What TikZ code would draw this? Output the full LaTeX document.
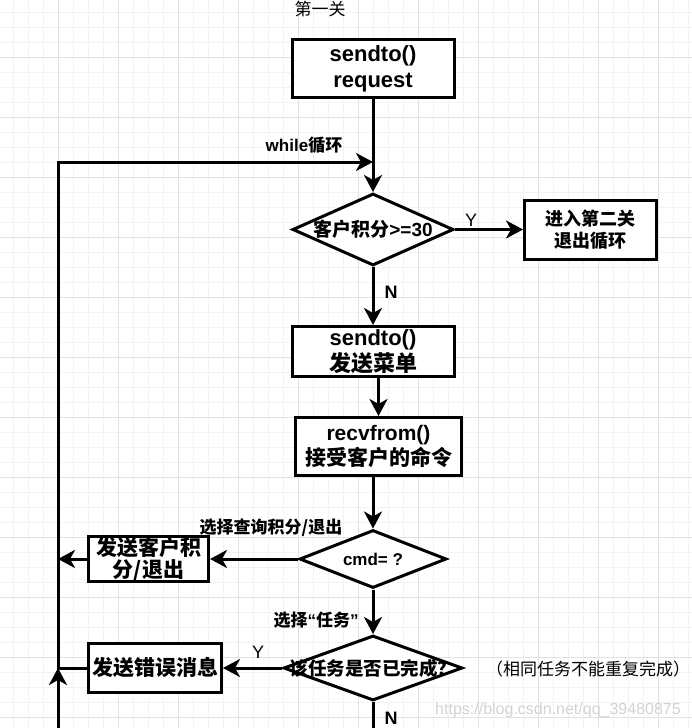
\documentclass[tikz,border=0pt]{standalone}
\usepackage{fontspec}
\setmainfont{Liberation Sans}
\newfontfamily\cjk{Noto Sans CJK SC}
\usetikzlibrary{shapes.geometric,arrows.meta}
\definecolor{gridmajor}{HTML}{E2E2E2}
\definecolor{gridminor}{HTML}{F3F3F3}
\definecolor{markgray}{HTML}{D2D2D2}
\tikzset{
  flow box/.style={
    draw, fill=white, line width=3pt,
    minimum width={#1},
    inner sep=0pt, align=center,
    font=\bfseries\fontsize{21}{25}\selectfont,
  },
  decision/.style={
    draw, fill=white, line width=3pt, diamond,
    minimum width={#1}, inner sep=0pt,
  },
  decision text/.style={
    font=\bfseries\fontsize{19}{22}\selectfont,
  },
  flow line/.style={line width=3pt},
  flow arrow/.style={line width=3pt, -{Stealth[length=17pt,width=18pt,inset=5pt]}},
  annotation/.style={font=\bfseries\fontsize{17}{20}\selectfont},
  branch/.style={font=\fontsize{18}{20}\selectfont},
  branch bold/.style={font=\bfseries\fontsize{18}{20}\selectfont},
}

\begin{document}
\begin{tikzpicture}[x=1pt, y=-1pt]
  \useasboundingbox (0,0) rectangle (692,728);
  \clip (0,0) rectangle (692,728);
  % background grid
  \draw [gridminor, line width=1pt, step=15pt, xshift=-1.7pt, yshift=2.7pt] (-30,760) grid (720,-30);
  \draw [gridmajor, line width=1pt, step=60pt, xshift=-1.7pt, yshift=2.7pt] (-60,780) grid (720,-60);

  \node [font=\cjk\fontsize{17}{20}\selectfont] (stage) at (320,9.5) {第一关};
  \node [flow box=162pt, minimum height=58pt, font=\bfseries\fontsize{22}{26}\selectfont] (send req) at (373,68.5) {sendto()\\request};
  \node [decision=161pt, minimum height=72pt] (score) at (373,229.5) {};
  \node [decision text] (score text) at (score) {{\cjk 客户积分}>=30};
  \node [flow box=132pt, minimum height=59pt, font=\bfseries\cjk\fontsize{18}{22}\selectfont] (next) at (590.5,229.5) {进入第二关\\退出循环};
  \node [flow box=162pt, minimum height=50pt, font=\bfseries\fontsize{22}{26}\selectfont] (menu) at (373,351.5) {sendto()\\{\cjk 发送菜单}};
  \node [flow box=166pt, minimum height=58pt] (recv) at (378.5,446.5) {recvfrom()\\{\cjk 接受客户的命令}};
  \node [decision=147pt, minimum height=58pt] (cmd) at (373,559) {};
  \node [decision text, font=\bfseries\fontsize{17}{20}\selectfont] (cmd text) at (cmd) {cmd= ?};
  \node [flow box=120pt, minimum height=43pt, font=\bfseries\cjk\fontsize{21}{22}\selectfont] (score back) at (148.5,559) {发送客户积\\分/退出};
  \node [decision=179pt, minimum height=65pt] (done) at (373,668) {};
  \node [decision text, font=\bfseries\cjk\fontsize{18.5}{22}\selectfont] (done text) at (done) {该任务是否已完成？};
  \node [flow box=133pt, minimum height=49pt, font=\bfseries\cjk\fontsize{21}{25}\selectfont] (error) at (155,668) {发送错误消息};

  \coordinate (rail) at (58,0);
  \coordinate (join) at (373,162);
  \coordinate (rail end) at (58,745);
  \coordinate (exit) at (373,745);

  \draw [flow arrow] (send req) -- (score);
  \draw [flow arrow] (score) -- (next);
  \draw [flow arrow] (score) -- (menu);
  \draw [flow arrow] (menu.south -| recv) -- (recv);
  \draw [flow arrow] (recv.south -| cmd) -- (cmd);
  \draw [flow arrow] (cmd) -- (score back);
  \draw [flow arrow] (score back) -- (score back -| rail);
  \draw [flow arrow] (cmd) -- (done);
  \draw [flow arrow] (done) -- (error);
  \draw [flow arrow] (error) -- (error -| rail) |- (join);
  \draw [flow arrow] (rail end) -- (error -| rail);
  \draw [flow line] (done) -- (exit);

  \node [annotation] (loop label) at (304,145) {while{\cjk 循环}};
  \node [branch] (yes score) at (471,220) {Y};
  \node [branch bold] (no score) at (391,292) {N};
  \node [annotation, font=\bfseries\cjk\fontsize{17}{20}\selectfont] (query label) at (271,528) {选择查询积分/退出};
  \node [annotation] (task label) at (316,620) {{\cjk 选择}“{\cjk 任务}”};
  \node [branch] (yes done) at (258,652) {Y};
  \node [branch bold] (no done) at (391,718) {N};
  \node [font=\cjk\fontsize{17}{20}\selectfont] (note) at (588,669) {（相同任务不能重复完成）};
  \node [text=markgray, font=\fontsize{16}{18}\selectfont] (watermark) at (558,710) {https://blog.csdn.net/qq\_39480875};
\end{tikzpicture}
\end{document}
